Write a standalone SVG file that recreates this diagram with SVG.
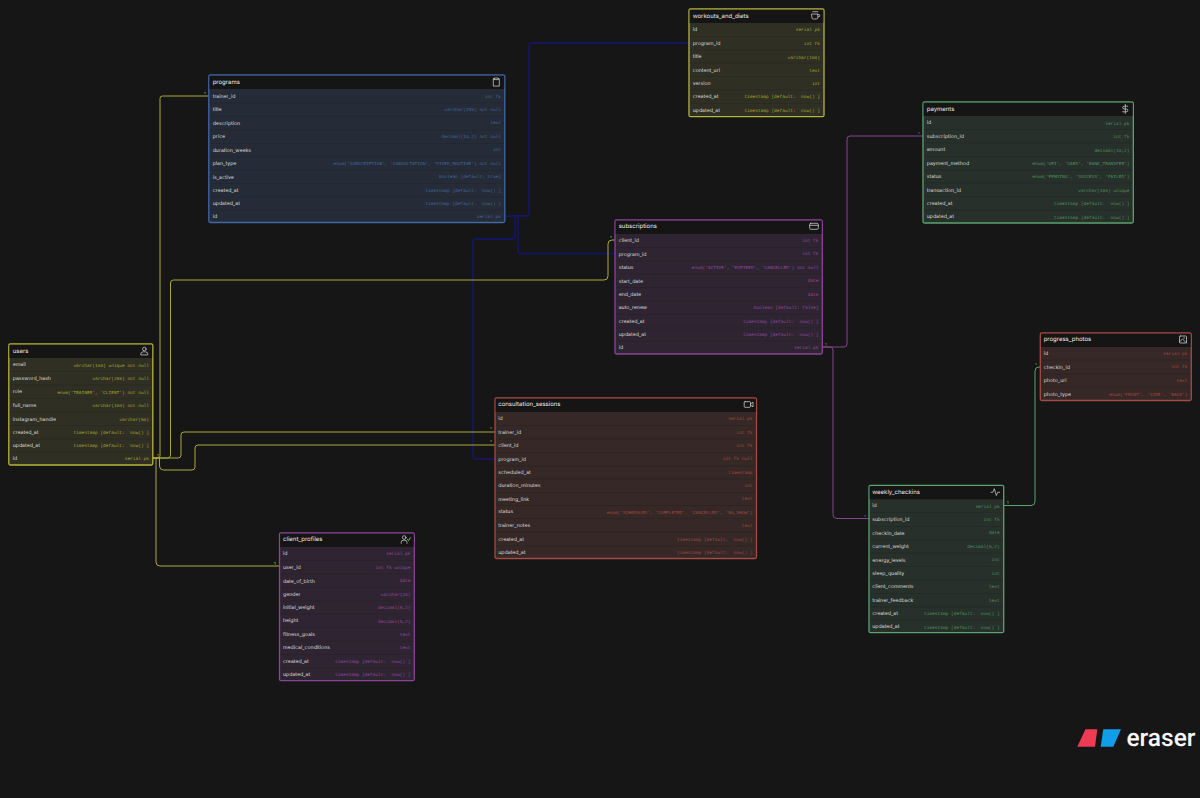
<svg xmlns="http://www.w3.org/2000/svg" width="1200" height="798" viewBox="0 0 1200 798">
<style>
text{dominant-baseline:central;text-rendering:geometricPrecision;transform:translateY(.5px)}
.h{font:400 6px Inter,"Liberation Sans",sans-serif;fill:#ececec}
.n{font:400 5.200px Inter,"Liberation Sans",sans-serif;fill:#dcdcdc}
.t{font:400 4.500px "Liberation Mono","DejaVu Sans Mono",monospace;text-anchor:end}
.m{font:400 4px Inter,"Liberation Sans",sans-serif}
.box{stroke-width:1.300}
.head{fill:#151515}
.div{fill:none;stroke-width:.5;stroke:#000;stroke-opacity:.18}
.ic{fill:none;stroke:#ddd;stroke-width:.7;stroke-linecap:round;stroke-linejoin:round}
.yl .box{fill:#2f2f24;stroke:#b5b53a}.yl .t{fill:#a9a92f}
.bl .box{fill:#252c37;stroke:#3f68a8}.bl .t{fill:#41689f}
.pu .box{fill:#2f2532;stroke:#8d4399}.pu .t{fill:#97489f}
.re .box{fill:#352826;stroke:#a54a44}.re .t{fill:#a34a44}
.gr .box{fill:#27302a;stroke:#5ba36e}.gr .t{fill:#4f9462}
#connectors path{fill:none}
.cy{stroke:#a9a938;stroke-width:1}.cb{stroke:#14145f;stroke-width:1.800}.cp{stroke:#83468b;stroke-width:1}.cg{stroke:#5ba36e;stroke-width:1}
.my{fill:#c8c848}.mp{fill:#b070b8}.mg{fill:#7cc48e}
</style>
<rect width="1200" height="798" fill="#161616"/>
<g id="connectors">
<path class="cb" d="M505 216H526Q529 216 529 213V46Q529 43 532 43H689"/>
<path class="cb" d="M505 216H515V236Q515 239 512 239H476Q473 239 473 242V456Q473 459 476 459H495"/>
<path class="cb" d="M505 216H518V250Q518 253.500 521 253.500H615"/>
<path class="cy" d="M153 458H158Q160 458 160 456V98.500Q160 96 162.500 96H209"/>
<path class="cy" d="M153 458H167.500Q170.500 458 170.500 455V283Q170.500 280 173.500 280H604Q608 280 608 276V244Q608 240 612 240H615"/>
<path class="cy" d="M153 458H178Q181 458 181 455V435Q181 432 184 432H495"/>
<path class="cy" d="M153 458H159.500V466Q159.500 470 163.500 470H192Q195 470 195 467V448Q195 445 198 445H495"/>
<path class="cy" d="M156 458V562Q156 566 160 566H279"/>
<path class="cp" d="M822 347H844Q847 347 847 344V139Q847 136 850 136H923"/>
<path class="cp" d="M822 347H830Q833 347 833 350V514.500Q833 518.500 837 518.500H869"/>
<path class="cg" d="M1004 505.500H1031Q1035 505.500 1035 501.500V371Q1035 367 1039 367H1040"/>
<text class="m my" x="204" y="93">*</text>
<text class="m my" x="157" y="455">1</text>
<text class="m my" x="610" y="237">*</text>
<text class="m my" x="490" y="428">*</text>
<text class="m my" x="490" y="441">*</text>
<text class="m my" x="274" y="563">1</text>
<text class="m mp" x="918" y="133">*</text>
<text class="m mp" x="825" y="344">1</text>
<text class="m mp" x="864" y="516">*</text>
<text class="m mg" x="1007" y="502">1</text>
<text class="m mg" x="1035" y="364">*</text>
</g>
<g id="users" class="yl">
<rect class="box" x="8.800" y="344" width="144" height="121" rx="1.500"/>
<rect class="head" x="9.500" y="344.700" width="142.600" height="13.300"/>
<path class="div" d="M9.500 371.500H152M9.500 385H152M9.500 398.500H152M9.500 412H152M9.500 425.500H152M9.500 439H152M9.500 452H152"/>
<text class="h" x="12.700" y="350.700">users</text>
<g class="ic" transform="translate(144.300 351)"><circle cx="0" cy="-2" r="1.800"/><path d="M-3.500 3.500V3Q-3.500 .8 -1 .8H1Q3.500 .8 3.500 3V3.500Z"/></g>
<text class="n" x="12.700" y="364.500">email</text><text class="t" x="149" y="365.500">varchar(100) unique not null</text>
<text class="n" x="12.700" y="378.500">password_hash</text><text class="t" x="149" y="379">varchar(255) not null</text>
<text class="n" x="12.700" y="391.500">role</text><text class="t" x="149" y="392.500">enum('TRAINER', 'CLIENT') not null</text>
<text class="n" x="12.700" y="405.500">full_name</text><text class="t" x="149" y="405.500">varchar(100) not null</text>
<text class="n" x="12.700" y="419">instagram_handle</text><text class="t" x="149" y="419.500">varchar(50)</text>
<text class="n" x="12.700" y="432.500">created_at</text><text class="t" x="149" y="432.500">timestamp [default: `now()`]</text>
<text class="n" x="12.700" y="445.500">updated_at</text><text class="t" x="149" y="445.500">timestamp [default: `now()`]</text>
<text class="n" x="12.700" y="458.500">id</text><text class="t" x="149" y="459">serial pk</text>
</g>
<g id="programs" class="bl">
<rect class="box" x="208.800" y="75" width="296" height="147.500" rx="1.500"/>
<rect class="head" x="209.500" y="75.700" width="294.600" height="13.300"/>
<path class="div" d="M209.500 103H504M209.500 116.500H504M209.500 130H504M209.500 143.500H504M209.500 157H504M209.500 170.500H504M209.500 183.500H504M209.500 197H504M209.500 210H504"/>
<text class="h" x="212.700" y="81.700">programs</text>
<g class="ic" transform="translate(496.300 82.300)"><path d="M-2 -3.500H-3V3.800H3V-3.500H2"/><rect x="-2" y="-4.300" width="4" height="1.600"/></g>
<text class="n" x="212.700" y="96.500">trainer_id</text><text class="t" x="501" y="96.500">int fk</text>
<text class="n" x="212.700" y="109.500">title</text><text class="t" x="501" y="110">varchar(255) not null</text>
<text class="n" x="212.700" y="123">description</text><text class="t" x="501" y="123">text</text>
<text class="n" x="212.700" y="136.500">price</text><text class="t" x="501" y="137">decimal(10,2) not null</text>
<text class="n" x="212.700" y="150">duration_weeks</text><text class="t" x="501" y="150">int</text>
<text class="n" x="212.700" y="163.500">plan_type</text><text class="t" x="501" y="164">enum('SUBSCRIPTION', 'CONSULTATION', 'FIXED_ROUTINE') not null</text>
<text class="n" x="212.700" y="177">is_active</text><text class="t" x="501" y="177">boolean [default: true]</text>
<text class="n" x="212.700" y="190">created_at</text><text class="t" x="501" y="190.500">timestamp [default: `now()`]</text>
<text class="n" x="212.700" y="203.500">updated_at</text><text class="t" x="501" y="204">timestamp [default: `now()`]</text>
<text class="n" x="212.700" y="216.500">id</text><text class="t" x="501" y="217">serial pk</text>
</g>
<g id="workouts_and_diets" class="yl">
<rect class="box" x="689" y="9" width="135" height="107.700" rx="1.500"/>
<rect class="head" x="689.700" y="9.700" width="133.600" height="13.300"/>
<path class="div" d="M689.700 36.500H823M689.700 50H823M689.700 63H823M689.700 76.500H823M689.700 90H823M689.700 103.500H823"/>
<text class="h" x="692.700" y="15.500">workouts_and_diets</text>
<g class="ic" transform="translate(815.300 15.500)"><path d="M-3.500 -1.500H2.500V2Q2.500 3.500 1 3.500H-2Q-3.500 3.500 -3.500 2ZM2.500 -1H3.500Q4.500 -1 4.500 .3Q4.500 1.500 3 1.500M-2.500 -3.800H2.500"/></g>
<text class="n" x="692.700" y="29.500">id</text><text class="t" x="820" y="30">serial pk</text>
<text class="n" x="692.700" y="43.500">program_id</text><text class="t" x="820" y="43.500">int fk</text>
<text class="n" x="692.700" y="56">title</text><text class="t" x="820" y="57.500">varchar(100)</text>
<text class="n" x="692.700" y="70">content_url</text><text class="t" x="820" y="70.500">text</text>
<text class="n" x="692.700" y="83">version</text><text class="t" x="820" y="83.500">int</text>
<text class="n" x="692.700" y="96.500">created_at</text><text class="t" x="820" y="97">timestamp [default: `now()`]</text>
<text class="n" x="692.700" y="110">updated_at</text><text class="t" x="820" y="110.500">timestamp [default: `now()`]</text>
</g>
<g id="subscriptions" class="pu">
<rect class="box" x="615" y="220" width="207.300" height="134" rx="1.500"/>
<rect class="head" x="615.700" y="220.700" width="205.900" height="13.300"/>
<path class="div" d="M615.700 247.500H821.500M615.700 261H821.500M615.700 274H821.500M615.700 287.500H821.500M615.700 301H821.500M615.700 314.500H821.500M615.700 328H821.500M615.700 341H821.500"/>
<text class="h" x="618.700" y="226">subscriptions</text>
<g class="ic" transform="translate(814 226.300)"><rect x="-4.300" y="-3" width="8.600" height="6" rx="1"/><path d="M-4.300 -1H4.300"/></g>
<text class="n" x="618.700" y="240.500">client_id</text><text class="t" x="818.500" y="240.500">int fk</text>
<text class="n" x="618.700" y="254">program_id</text><text class="t" x="818.500" y="254">int fk</text>
<text class="n" x="618.700" y="267">status</text><text class="t" x="818.500" y="268">enum('ACTIVE', 'EXPIRED', 'CANCELLED') not null</text>
<text class="n" x="618.700" y="281">start_date</text><text class="t" x="818.500" y="281">date</text>
<text class="n" x="618.700" y="294.500">end_date</text><text class="t" x="818.500" y="294.500">date</text>
<text class="n" x="618.700" y="307.500">auto_renew</text><text class="t" x="818.500" y="308">boolean [default: false]</text>
<text class="n" x="618.700" y="321">created_at</text><text class="t" x="818.500" y="321.500">timestamp [default: `now()`]</text>
<text class="n" x="618.700" y="334.500">updated_at</text><text class="t" x="818.500" y="335">timestamp [default: `now()`]</text>
<text class="n" x="618.700" y="347">id</text><text class="t" x="818.500" y="348">serial pk</text>
</g>
<g id="payments" class="gr">
<rect class="box" x="923" y="102" width="210.300" height="121" rx="1.500"/>
<rect class="head" x="923.700" y="102.700" width="208.900" height="13.300"/>
<path class="div" d="M923.700 129.500H1132.500M923.700 143H1132.500M923.700 156.500H1132.500M923.700 170H1132.500M923.700 183H1132.500M923.700 196.500H1132.500M923.700 210H1132.500"/>
<text class="h" x="926.700" y="108.500">payments</text>
<g class="ic" transform="translate(1125.300 109)"><path d="M0 -4.500V4.500M2.400 -2.800H-1Q-2.600 -2.800 -2.600 -1.300Q-2.600 0 -1 0H1Q2.600 0 2.600 1.400Q2.600 2.800 1 2.800H-2.600"/></g>
<text class="n" x="926.700" y="122.500">id</text><text class="t" x="1129.500" y="123.500">serial pk</text>
<text class="n" x="926.700" y="136.500">subscription_id</text><text class="t" x="1129.500" y="136.500">int fk</text>
<text class="n" x="926.700" y="149.500">amount</text><text class="t" x="1129.500" y="150.500">decimal(10,2)</text>
<text class="n" x="926.700" y="163.500">payment_method</text><text class="t" x="1129.500" y="164">enum('UPI', 'CARD', 'BANK_TRANSFER')</text>
<text class="n" x="926.700" y="176">status</text><text class="t" x="1129.500" y="177">enum('PENDING', 'SUCCESS', 'FAILED')</text>
<text class="n" x="926.700" y="190">transaction_id</text><text class="t" x="1129.500" y="190.500">varchar(100) unique</text>
<text class="n" x="926.700" y="203.500">created_at</text><text class="t" x="1129.500" y="204">timestamp [default: `now()`]</text>
<text class="n" x="926.700" y="216.500">updated_at</text><text class="t" x="1129.500" y="217.500">timestamp [default: `now()`]</text>
</g>
<g id="consultation_sessions" class="re">
<rect class="box" x="495" y="398" width="261.500" height="160.500" rx="1.500"/>
<rect class="head" x="495.700" y="398.700" width="260.100" height="13.300"/>
<path class="div" d="M495.700 425.500H755.800M495.700 439H755.800M495.700 452.500H755.800M495.700 466H755.800M495.700 479H755.800M495.700 492.500H755.800M495.700 505.500H755.800M495.700 518.500H755.800M495.700 532H755.800M495.700 546H755.800"/>
<text class="h" x="498.300" y="404">consultation_sessions</text>
<g class="ic" transform="translate(748.500 404.500)"><rect x="-4.300" y="-2.800" width="6.300" height="5.600" rx=".8"/><path d="M2 -.5L4.500 -2.400V2.400L2 .5"/></g>
<text class="n" x="498.300" y="418.500">id</text><text class="t" x="752.500" y="419">serial pk</text>
<text class="n" x="498.300" y="432.500">trainer_id</text><text class="t" x="752.500" y="432.500">int fk</text>
<text class="n" x="498.300" y="445.500">client_id</text><text class="t" x="752.500" y="445.500">int fk</text>
<text class="n" x="498.300" y="459">program_id</text><text class="t" x="752.500" y="459">int fk null</text>
<text class="n" x="498.300" y="472.500">scheduled_at</text><text class="t" x="752.500" y="472.500">timestamp</text>
<text class="n" x="498.300" y="485.500">duration_minutes</text><text class="t" x="752.500" y="485.500">int</text>
<text class="n" x="498.300" y="499">meeting_link</text><text class="t" x="752.500" y="499">text</text>
<text class="n" x="498.300" y="511.500">status</text><text class="t" x="752.500" y="512.500">enum('SCHEDULED', 'COMPLETED', 'CANCELLED', 'NO_SHOW')</text>
<text class="n" x="498.300" y="525.500">trainer_notes</text><text class="t" x="752.500" y="526">text</text>
<text class="n" x="498.300" y="539">created_at</text><text class="t" x="752.500" y="540">timestamp [default: `now()`]</text>
<text class="n" x="498.300" y="552.500">updated_at</text><text class="t" x="752.500" y="553">timestamp [default: `now()`]</text>
</g>
<g id="client_profiles" class="pu">
<rect class="box" x="279.500" y="533" width="134.800" height="147.700" rx="1.500"/>
<rect class="head" x="280.200" y="533.700" width="133.400" height="13.300"/>
<path class="div" d="M280.200 560.500H413.500M280.200 574H413.500M280.200 587.500H413.500M280.200 601H413.500M280.200 614H413.500M280.200 627.500H413.500M280.200 641H413.500M280.200 654.500H413.500M280.200 668H413.500"/>
<text class="h" x="283" y="539">client_profiles</text>
<g class="ic" transform="translate(405.500 539.500)"><circle cx="-1.300" cy="-2" r="1.800"/><path d="M-4.300 3.800V3Q-4.300 .8 -2.500 .8H-.5Q1.500 .8 1.500 3V3.800M1.800 -.3L3 1L5 -1.800"/></g>
<text class="n" x="283" y="553.500">id</text><text class="t" x="410.500" y="554">serial pk</text>
<text class="n" x="283" y="567.500">user_id</text><text class="t" x="410.500" y="567.500">int fk unique</text>
<text class="n" x="283" y="581">date_of_birth</text><text class="t" x="410.500" y="581">date</text>
<text class="n" x="283" y="594">gender</text><text class="t" x="410.500" y="595">varchar(20)</text>
<text class="n" x="283" y="607.500">initial_weight</text><text class="t" x="410.500" y="608">decimal(5,2)</text>
<text class="n" x="283" y="620.500">height</text><text class="t" x="410.500" y="621.500">decimal(5,2)</text>
<text class="n" x="283" y="634.500">fitness_goals</text><text class="t" x="410.500" y="634.500">text</text>
<text class="n" x="283" y="647.500">medical_conditions</text><text class="t" x="410.500" y="647.500">text</text>
<text class="n" x="283" y="661">created_at</text><text class="t" x="410.500" y="661.500">timestamp [default: `now()`]</text>
<text class="n" x="283" y="674.500">updated_at</text><text class="t" x="410.500" y="675">timestamp [default: `now()`]</text>
</g>
<g id="weekly_checkins" class="gr">
<rect class="box" x="869" y="485.300" width="134.700" height="147.400" rx="1.500"/>
<rect class="head" x="869.700" y="486" width="133.300" height="13.300"/>
<path class="div" d="M869.700 512.500H1003M869.700 526.500H1003M869.700 540H1003M869.700 553H1003M869.700 566.500H1003M869.700 580H1003M869.700 593.500H1003M869.700 607H1003M869.700 620H1003"/>
<text class="h" x="872.300" y="491.500">weekly_checkins</text>
<g class="ic" transform="translate(995.300 492)"><path d="M-4.300 .3H-2.500L-1 -3.300L1 3.500L2.500 .3H4.300"/></g>
<text class="n" x="872.300" y="505.500">id</text><text class="t" x="999.700" y="506.500">serial pk</text>
<text class="n" x="872.300" y="519.500">subscription_id</text><text class="t" x="999.700" y="520">int fk</text>
<text class="n" x="872.300" y="533">checkin_date</text><text class="t" x="999.700" y="533">date</text>
<text class="n" x="872.300" y="546.500">current_weight</text><text class="t" x="999.700" y="547">decimal(5,2)</text>
<text class="n" x="872.300" y="560">energy_levels</text><text class="t" x="999.700" y="560">int</text>
<text class="n" x="872.300" y="573.500">sleep_quality</text><text class="t" x="999.700" y="573.500">int</text>
<text class="n" x="872.300" y="586.500">client_comments</text><text class="t" x="999.700" y="586.500">text</text>
<text class="n" x="872.300" y="600.500">trainer_feedback</text><text class="t" x="999.700" y="600.500">text</text>
<text class="n" x="872.300" y="613.500">created_at</text><text class="t" x="999.700" y="614">timestamp [default: `now()`]</text>
<text class="n" x="872.300" y="626.500">updated_at</text><text class="t" x="999.700" y="627.500">timestamp [default: `now()`]</text>
</g>
<g id="progress_photos" class="re">
<rect class="box" x="1040.300" y="333" width="151" height="67.500" rx="1.500"/>
<rect class="head" x="1041" y="333.700" width="149.600" height="13.300"/>
<path class="div" d="M1041 360H1190.500M1041 374H1190.500M1041 387H1190.500"/>
<text class="h" x="1043.700" y="339">progress_photos</text>
<g class="ic" transform="translate(1183 339.500)"><rect x="-3.500" y="-3.500" width="7" height="7" rx=".8"/><path d="M-3.500 2.500L-.5 -.5L3.500 3.500M.8 -1.500H1.600"/></g>
<text class="n" x="1043.700" y="353">id</text><text class="t" x="1187.500" y="354">serial pk</text>
<text class="n" x="1043.700" y="367">checkin_id</text><text class="t" x="1187.500" y="367">int fk</text>
<text class="n" x="1043.700" y="380.500">photo_url</text><text class="t" x="1187.500" y="380.500">text</text>
<text class="n" x="1043.700" y="394">photo_type</text><text class="t" x="1187.500" y="394.500">enum('FRONT', 'SIDE', 'BACK')</text>
</g>
<g id="logo">
<path d="M1085.500 729.300H1097.300L1095 746.700H1077.300Z" fill="#ef3b53"/>
<path d="M1103.300 729.300H1121L1113.300 746.700H1100.700Z" fill="#109ee8"/>
<text x="1126.500" y="737" style="font:500 24.500px Roboto,'Liberation Sans',sans-serif;fill:#f7f7f7">eraser</text>
</g>
</svg>
